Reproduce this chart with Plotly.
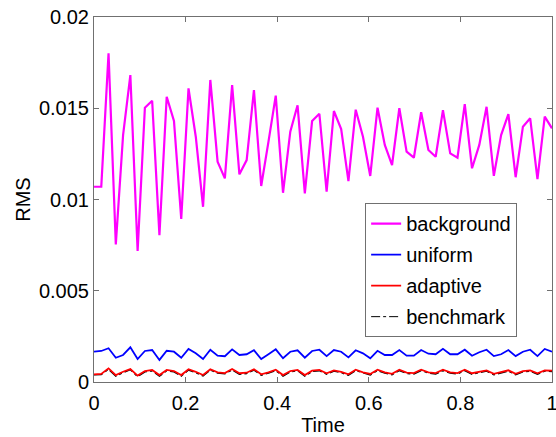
import numpy as np
import plotly.graph_objects as go

time = np.linspace(0, 1, 64)

background = [0.01070, 0.01070, 0.01801, 0.00754, 0.01353, 0.01682, 0.00718, 0.01503,
              0.01541, 0.00805, 0.01563, 0.01430, 0.00893, 0.01609, 0.01344, 0.00960,
              0.01655, 0.01207, 0.01116, 0.01627, 0.01138, 0.01216, 0.01600, 0.01074,
              0.01317, 0.01569, 0.01037, 0.01372, 0.01516, 0.01034, 0.01430, 0.01470,
              0.01043, 0.01485, 0.01386, 0.01101, 0.01492, 0.01344, 0.01129, 0.01503,
              0.01299, 0.01189, 0.01500, 0.01262, 0.01229, 0.01478, 0.01271, 0.01234,
              0.01490, 0.01253, 0.01229, 0.01523, 0.01171, 0.01299, 0.01508, 0.01130,
              0.01353, 0.01468, 0.01122, 0.01399, 0.01445, 0.01112, 0.01454, 0.01390]

uniform = [0.00166, 0.00170, 0.00185, 0.00133, 0.00148, 0.00190, 0.00126, 0.00170,
           0.00175, 0.00121, 0.00171, 0.00166, 0.00133, 0.00181, 0.00157, 0.00126,
           0.00177, 0.00144, 0.00141, 0.00179, 0.00148, 0.00152, 0.00174, 0.00126,
           0.00152, 0.00179, 0.00130, 0.00166, 0.00174, 0.00133, 0.00170, 0.00177,
           0.00142, 0.00175, 0.00166, 0.00135, 0.00174, 0.00157, 0.00130, 0.00171,
           0.00148, 0.00148, 0.00175, 0.00144, 0.00144, 0.00175, 0.00155, 0.00152,
           0.00182, 0.00152, 0.00152, 0.00177, 0.00144, 0.00163, 0.00177, 0.00142,
           0.00152, 0.00175, 0.00142, 0.00166, 0.00177, 0.00142, 0.00181, 0.00166]

adaptive = [0.00042, 0.00044, 0.00075, 0.00038, 0.00056, 0.00071, 0.00035, 0.00060,
            0.00066, 0.00038, 0.00066, 0.00060, 0.00038, 0.00070, 0.00056, 0.00038,
            0.00070, 0.00053, 0.00049, 0.00071, 0.00048, 0.00051, 0.00070, 0.00042,
            0.00053, 0.00067, 0.00038, 0.00060, 0.00066, 0.00038, 0.00062, 0.00066,
            0.00048, 0.00064, 0.00056, 0.00042, 0.00067, 0.00053, 0.00044, 0.00067,
            0.00053, 0.00045, 0.00067, 0.00051, 0.00049, 0.00067, 0.00053, 0.00049,
            0.00067, 0.00053, 0.00049, 0.00067, 0.00048, 0.00056, 0.00064, 0.00045,
            0.00053, 0.00064, 0.00045, 0.00060, 0.00064, 0.00048, 0.00064, 0.00062]

benchmark = [0.00040, 0.00041, 0.00070, 0.00032, 0.00052, 0.00068, 0.00030, 0.00056,
             0.00062, 0.00032, 0.00062, 0.00056, 0.00033, 0.00066, 0.00052, 0.00033,
             0.00066, 0.00049, 0.00045, 0.00067, 0.00043, 0.00047, 0.00066, 0.00037,
             0.00049, 0.00063, 0.00033, 0.00056, 0.00062, 0.00033, 0.00058, 0.00062,
             0.00043, 0.00060, 0.00052, 0.00037, 0.00063, 0.00049, 0.00039, 0.00063,
             0.00049, 0.00040, 0.00063, 0.00047, 0.00044, 0.00063, 0.00049, 0.00044,
             0.00063, 0.00049, 0.00044, 0.00063, 0.00043, 0.00052, 0.00060, 0.00040,
             0.00049, 0.00060, 0.00040, 0.00056, 0.00060, 0.00043, 0.00060, 0.00058]

x_ticks = [0, 0.2, 0.4, 0.6, 0.8, 1]
x_tick_labels = ["0", "0.2", "0.4", "0.6", "0.8", "1"]
y_ticks = [0, 0.005, 0.01, 0.015, 0.02]
y_tick_labels = ["0", "0.005", "0.01", "0.015", "0.02"]

FONT = "Liberation Sans, Arial, sans-serif"
FS = 20

fig = go.Figure()
fig.add_trace(go.Scatter(x=time, y=background, mode="lines", name="background",
                         line=dict(color="#ff00ff", width=2.2), legendgroup="a"))
fig.add_trace(go.Scatter(x=time, y=uniform, mode="lines", name="uniform",
                         line=dict(color="#0000ff", width=1.8), legendgroup="b"))
fig.add_trace(go.Scatter(x=time, y=benchmark, mode="lines", name="benchmark",
                         line=dict(color="#000000", width=1.5, dash="dashdot"),
                         legendgroup="d", showlegend=False))
fig.add_trace(go.Scatter(x=time, y=adaptive, mode="lines", name="adaptive",
                         line=dict(color="#ff0000", width=1.8), legendgroup="c"))
fig.add_trace(go.Scatter(x=[None], y=[None], mode="lines", name="benchmark",
                         line=dict(color="#000000", width=1, dash="dashdot"),
                         legendgroup="d"))

axis_common = dict(
    showline=True, linecolor="#707070", linewidth=1, mirror="ticks",
    ticks="inside", ticklen=5, tickcolor="#707070", tickwidth=1,
    showgrid=False, zeroline=False, automargin=False,
    ticklabeloverflow="allow",
    tickfont=dict(family=FONT, size=FS, color="#000000"),
)

fig.update_xaxes(range=[0, 1], tickvals=x_ticks, ticktext=x_tick_labels,
                 ticklabelstandoff=3,
                 title=dict(text="Time", font=dict(family=FONT, size=FS, color="#000"),
                            standoff=4),
                 **axis_common)
fig.update_yaxes(range=[0, 0.02], tickvals=y_ticks, ticktext=y_tick_labels,
                 title=dict(text="RMS", font=dict(family=FONT, size=FS, color="#000"),
                            standoff=2),
                 **axis_common)

fig.update_layout(
    width=556, height=437,
    margin=dict(l=94, r=4, t=17, b=55, autoexpand=False),
    paper_bgcolor="white", plot_bgcolor="white",
    font=dict(family=FONT, size=FS, color="#000"),
    legend=dict(x=0.592, y=0.49, xanchor="left", yanchor="top",
                bgcolor="white", bordercolor="#707070", borderwidth=1,
                traceorder="grouped", tracegroupgap=2,
                font=dict(family=FONT, size=FS, color="#000")),
)

fig.write_html("out.html",
               config={"displayModeBar": False},
               post_script="document.body.style.margin='0';"
                           "document.body.style.overflow='hidden';")
